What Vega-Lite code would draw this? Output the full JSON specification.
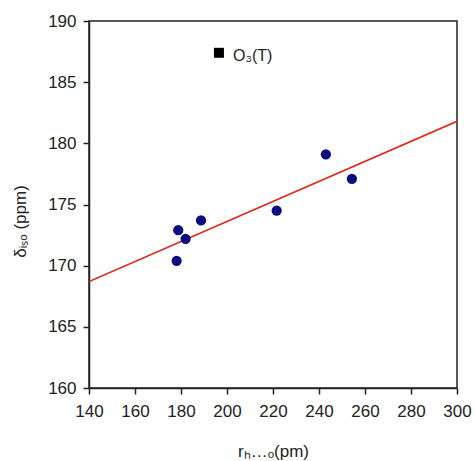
{
  "$schema": "https://vega.github.io/schema/vega-lite/v6.json",
  "width": 368,
  "height": 367,
  "autosize": "none",
  "padding": {"left": 89, "top": 21, "right": 17, "bottom": 73},
  "background": "white",
  "config": {
    "view": {"stroke": "#222222", "strokeWidth": 1.5},
    "font": "Liberation Sans",
    "axis": {
      "grid": false,
      "domainColor": "#222222",
      "domainWidth": 1.5,
      "tickColor": "#222222",
      "tickWidth": 1.5,
      "tickSize": 6,
      "labelFont": "Liberation Sans",
      "labelFontSize": 17,
      "labelColor": "#222222",
      "labelOverlap": false,
      "labelFlush": false,
      "titleFont": "Liberation Sans",
      "titleFontSize": 17,
      "titleFontWeight": "normal",
      "titleColor": "#222222"
    }
  },
  "datasets": {
    "points": [
      {"r": 178.1, "delta": 170.4},
      {"r": 178.8, "delta": 172.9},
      {"r": 182.0, "delta": 172.2},
      {"r": 188.7, "delta": 173.7},
      {"r": 221.6, "delta": 174.5},
      {"r": 243.0, "delta": 179.1},
      {"r": 254.3, "delta": 177.1}
    ],
    "special": [
      {"r": 196.5, "delta": 187.4, "label": "O₃(T)"}
    ],
    "fit": [
      {"r": 140, "delta": 168.7},
      {"r": 300, "delta": 181.8}
    ]
  },
  "layer": [
    {
      "data": {"name": "fit"},
      "mark": {"type": "line", "color": "#e32219", "strokeWidth": 1.6, "clip": true},
      "encoding": {
        "x": {
          "field": "r", "type": "quantitative",
          "scale": {"domain": [140, 300], "nice": false, "zero": false},
          "axis": {
            "values": [140, 160, 180, 200, 220, 240, 260, 280, 300],
            "labelPadding": 9,
            "title": "rₕ…ₒ(pm)",
            "titleX": 184,
            "titleY": 63,
            "titleBaseline": "middle",
            "titleAlign": "center"
          }
        },
        "y": {
          "field": "delta", "type": "quantitative",
          "scale": {"domain": [160, 190], "nice": false, "zero": false},
          "axis": {
            "values": [160, 165, 170, 175, 180, 185, 190],
            "labelPadding": 7,
            "title": "δᵢₛₒ (ppm)",
            "titleX": -69,
            "titleY": 200,
            "titleBaseline": "middle",
            "titleAlign": "center",
            "titleAngle": -90
          }
        }
      }
    },
    {
      "data": {"name": "points"},
      "mark": {"type": "circle", "color": "#0d0d80", "opacity": 1, "size": 105},
      "encoding": {
        "x": {"field": "r", "type": "quantitative"},
        "y": {"field": "delta", "type": "quantitative"}
      }
    },
    {
      "data": {"name": "special"},
      "mark": {"type": "square", "color": "#000000", "opacity": 1, "size": 100},
      "encoding": {
        "x": {"field": "r", "type": "quantitative"},
        "y": {"field": "delta", "type": "quantitative"}
      }
    },
    {
      "data": {"name": "special"},
      "mark": {"type": "text", "align": "left", "baseline": "middle", "dx": 14, "dy": 3, "fontSize": 16, "color": "#222222", "font": "Liberation Sans"},
      "encoding": {
        "x": {"field": "r", "type": "quantitative"},
        "y": {"field": "delta", "type": "quantitative"},
        "text": {"field": "label"}
      }
    }
  ]
}
